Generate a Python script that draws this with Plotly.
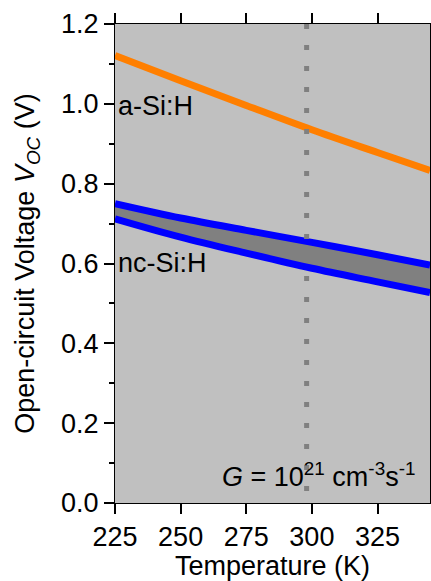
import plotly.graph_objects as go

# Data
temps = [225, 250, 275, 300, 325, 345]
a_si = [1.121, 1.058, 0.996, 0.935, 0.878, 0.833]
nc_si_upper = [0.750, 0.714, 0.683, 0.653, 0.622, 0.596]
nc_si_lower = [0.712, 0.666, 0.626, 0.588, 0.554, 0.527]
t_ref = 298
v_span = [1.2, 0.0]
x_ticks = [225, 250, 275, 300, 325]

FONT = "Liberation Sans, Arial, sans-serif"

fig = go.Figure()

# grey band between nc-Si:H limits
fig.add_trace(go.Scatter(x=temps, y=nc_si_lower, mode="lines",
                         line=dict(width=0, shape="spline"), showlegend=False, hoverinfo="skip"))
fig.add_trace(go.Scatter(x=temps, y=nc_si_upper, mode="lines", fill="tonexty",
                         fillcolor="#808080",
                         line=dict(width=0, shape="spline"), showlegend=False, hoverinfo="skip"))

fig.add_trace(go.Scatter(x=temps, y=nc_si_upper, mode="lines",
                         line=dict(color="#0000FF", width=7, shape="spline"), showlegend=False))
fig.add_trace(go.Scatter(x=temps, y=nc_si_lower, mode="lines",
                         line=dict(color="#0000FF", width=7, shape="spline"), showlegend=False))
fig.add_trace(go.Scatter(x=temps, y=a_si, mode="lines",
                         line=dict(color="#FF7F00", width=7, shape="spline"), showlegend=False))

# dotted reference line at room temperature
fig.add_trace(go.Scatter(x=[t_ref, t_ref], y=v_span, mode="lines",
                         line=dict(color="#808080", width=5, dash="5px,16px"), showlegend=False))

fig.update_layout(
    width=431, height=581, autosize=False,
    margin=dict(l=115, r=1, t=24, b=78),
    paper_bgcolor="white",
    plot_bgcolor="#C0C0C0",
    font=dict(family=FONT, size=27, color="black"),
    showlegend=False,
)

fig.update_xaxes(
    range=[225, 345], tickvals=x_ticks, ticktext=[str(t) for t in x_ticks],
    ticks="outside", ticklen=10, tickwidth=1.5, tickcolor="black",
    showline=True, linecolor="black", linewidth=1, mirror="ticks",
    showgrid=False, zeroline=False, automargin=False,
    tickfont=dict(size=27),
    title=dict(text="Temperature (K)", font=dict(size=27), standoff=2),
)
fig.update_yaxes(
    range=[0, 1.2], dtick=0.2, tick0=0, tickformat=".1f",
    ticks="outside", ticklen=10, tickwidth=1.5, tickcolor="black",
    minor=dict(dtick=0.1, ticklen=5, tickwidth=1.5, tickcolor="black", ticks="outside"),
    showline=True, linecolor="black", linewidth=1, mirror="ticks",
    showgrid=False, zeroline=False, automargin=False,
    tickfont=dict(size=27),
    title=dict(text="Open-circuit Voltage <i>V</i><sub><i>OC</i></sub> (V)",
               font=dict(size=27), standoff=18),
)

fig.add_annotation(x=225, y=0.994, xref="x", yref="y", text="a-Si:H",
                   xanchor="left", yanchor="middle", xshift=1, showarrow=False,
                   font=dict(size=27))
fig.add_annotation(x=225, y=0.601, xref="x", yref="y", text="nc-Si:H",
                   xanchor="left", yanchor="middle", xshift=1, showarrow=False,
                   font=dict(size=27))
fig.add_annotation(x=0.333, y=0.058, xref="paper", yref="paper",
                   text="<i>G</i> = 10<sup>21</sup> cm<sup>-3</sup>s<sup>-1</sup>",
                   xanchor="left", yanchor="middle", showarrow=False,
                   font=dict(size=27))

fig.write_html(
    "out.html",
    config={"displayModeBar": False, "responsive": False},
    post_script="document.body.style.margin='0';document.body.style.overflow='hidden';",
)
